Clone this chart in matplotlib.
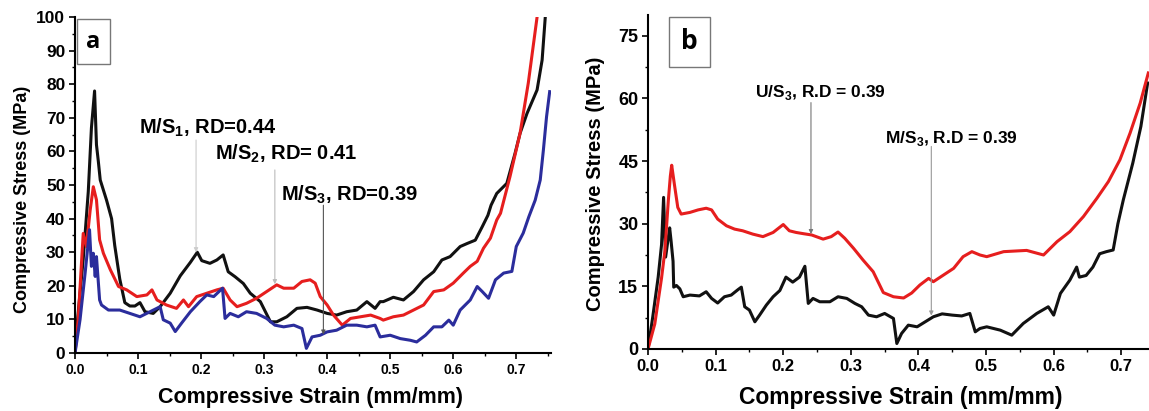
import numpy as np
import matplotlib
matplotlib.use('Agg')
import matplotlib.pyplot as plt
from matplotlib.patches import Rectangle
from matplotlib.ticker import MultipleLocator

plt.rcParams['font.family'] = 'Liberation Sans'
plt.rcParams['font.weight'] = 'bold'
plt.rcParams['mathtext.fontset'] = 'custom'
plt.rcParams['mathtext.rm'] = 'Liberation Sans:bold'
plt.rcParams['mathtext.bf'] = 'Liberation Sans:bold'

# ---- panel a data (strain, stress) ----
a_black_x = [0, 0.003, 0.013, 0.021, 0.026, 0.031, 0.034, 0.037, 0.040, 0.05, 0.058, 0.063, 0.071, 0.079,
             0.087, 0.095, 0.103, 0.111, 0.124, 0.135, 0.151, 0.167, 0.183, 0.194, 0.201, 0.214, 0.225,
             0.235, 0.243, 0.254, 0.267, 0.278, 0.294, 0.31, 0.32, 0.336, 0.352, 0.368, 0.384, 0.4, 0.415,
             0.431, 0.447, 0.463, 0.476, 0.484, 0.489, 0.505, 0.521, 0.537, 0.553, 0.569, 0.582, 0.595,
             0.611, 0.622, 0.635, 0.646, 0.655, 0.66, 0.669, 0.685, 0.698, 0.706, 0.717, 0.733, 0.741, 0.746]
a_black_y = [0, 8, 28, 48, 67, 78, 62, 57, 51.5, 45.5, 40, 32, 22, 15,
             14, 14, 15, 12.3, 11.8, 13.8, 17.8, 23, 27, 30, 27.5, 26.7, 27.7,
             29.2, 24.2, 22.7, 20.7, 17.8, 15.3, 9.3, 9.3, 10.8, 13.3, 13.6, 12.8, 11.8, 11.3,
             12.3, 12.8, 15.3, 13.3, 15.3, 15.3, 16.6, 15.8, 18.3, 21.8, 24.2, 27.7, 28.7,
             31.7, 32.6, 33.6, 37.6, 41, 44, 47.5, 50.5, 59.4, 65.4, 71.3, 78.3, 87.2, 100]

a_red_x = [0, 0.005, 0.013, 0.018, 0.024, 0.029, 0.034, 0.039, 0.045, 0.056, 0.069, 0.082, 0.098, 0.114,
           0.122, 0.13, 0.145, 0.161, 0.172, 0.18, 0.193, 0.209, 0.225, 0.235, 0.246, 0.257, 0.272,
           0.288, 0.304, 0.32, 0.331, 0.347, 0.36, 0.373, 0.381, 0.389, 0.4, 0.41, 0.424, 0.437, 0.453,
           0.469, 0.484, 0.489, 0.505, 0.521, 0.537, 0.553, 0.569, 0.585, 0.6, 0.616, 0.627, 0.638,
           0.648, 0.659, 0.669, 0.675, 0.69, 0.706, 0.719, 0.733]
a_red_y = [0, 10, 35.6, 31.7, 42.5, 49.5, 45.6, 33.7, 29.7, 24.8, 19.8, 18.8, 16.8, 17.3,
           18.8, 15.8, 14.3, 13.3, 15.8, 13.8, 16.8, 17.8, 18.8, 19.3, 15.8, 13.8, 14.8,
           16.3, 18.3, 20.3, 19.3, 19.3, 21.3, 21.8, 20.8, 16.8, 14.3, 11.3, 8.3, 10.3, 10.8,
           11.3, 10.3, 9.8, 10.8, 11.3, 12.8, 14.3, 18.3, 18.8, 20.8, 23.8, 25.8, 27.3,
           31.2, 34.2, 39.6, 41.6, 52.5, 65.4, 80.3, 100]

a_blue_x = [0, 0.008, 0.016, 0.023, 0.026, 0.029, 0.032, 0.034, 0.039, 0.042, 0.053, 0.071, 0.087, 0.103,
            0.119, 0.135, 0.14, 0.151, 0.159, 0.169, 0.183, 0.198, 0.209, 0.22, 0.234, 0.238, 0.246,
            0.259, 0.272, 0.288, 0.304, 0.317, 0.331, 0.347, 0.36, 0.367, 0.376, 0.389, 0.4, 0.415,
            0.431, 0.447, 0.463, 0.476, 0.484, 0.5, 0.516, 0.532, 0.542, 0.556, 0.569, 0.582, 0.593,
            0.6, 0.611, 0.627, 0.638, 0.646, 0.656, 0.667, 0.68, 0.693, 0.7, 0.711, 0.72, 0.73,
            0.738, 0.743, 0.748, 0.753]
a_blue_y = [0, 10, 23.8, 36.7, 25.8, 29.7, 22.8, 28.7, 15.8, 14.3, 12.8, 12.8, 11.8, 10.8,
            12.3, 13.8, 9.9, 8.9, 6.4, 8.9, 12.3, 15.3, 17.3, 16.8, 19.3, 10.3, 11.8,
            10.8, 12.3, 11.8, 10.3, 8.3, 7.8, 8.3, 7.3, 1.4, 4.8, 5.3, 6.3, 6.8,
            8.3, 8.3, 7.8, 8.3, 4.8, 5.3, 4.3, 3.8, 3.3, 5.3, 7.8, 7.8, 9.8,
            8.3, 12.8, 15.8, 19.8, 18.3, 16.3, 21.8, 23.8, 24.3, 31.7, 35.7, 40.6, 45.5,
            51.5, 60.4, 70.3, 77.8]

# ---- panel b data ----
b_red_x = [0, 0.01, 0.02, 0.025, 0.03, 0.033, 0.035, 0.039, 0.044, 0.049, 0.062, 0.074, 0.086, 0.094,
           0.103, 0.116, 0.128, 0.14, 0.155, 0.17, 0.185, 0.2, 0.209, 0.219, 0.23, 0.242, 0.259,
           0.271, 0.281, 0.291, 0.304, 0.318, 0.333, 0.348, 0.363, 0.378, 0.39, 0.402, 0.415, 0.422,
           0.437, 0.452, 0.466, 0.479, 0.491, 0.501, 0.526, 0.56, 0.585, 0.605, 0.624, 0.644, 0.664,
           0.681, 0.698, 0.713, 0.728, 0.74]
b_red_y = [0, 6, 17, 23.6, 35.5, 41.4, 44, 39.4, 33.9, 32.3, 32.7, 33.3, 33.7, 33.3,
           31.1, 29.5, 28.7, 28.3, 27.5, 26.9, 27.9, 29.8, 28.3, 27.9, 27.6, 27.3, 26.3,
           26.9, 28, 26.5, 24.1, 21.3, 18.5, 13.5, 12.5, 12.2, 13.4, 15.3, 16.9, 16.1,
           17.7, 19.3, 22.1, 23.3, 22.5, 22.1, 23.3, 23.6, 22.5, 25.7, 28.1, 31.7, 36.1,
           40.1, 45.3, 51.7, 58.9, 66.1]

b_black_x = [0, 0.007, 0.015, 0.02, 0.023, 0.026, 0.03, 0.032, 0.034, 0.037, 0.038, 0.042, 0.047, 0.052,
             0.062, 0.076, 0.086, 0.094, 0.103, 0.113, 0.123, 0.133, 0.138, 0.143, 0.15, 0.158, 0.165,
             0.175, 0.185, 0.195, 0.204, 0.214, 0.224, 0.232, 0.237, 0.244, 0.254, 0.269, 0.281, 0.294,
             0.306, 0.316, 0.326, 0.338, 0.35, 0.363, 0.368, 0.375, 0.385, 0.398, 0.41, 0.422, 0.435,
             0.45, 0.464, 0.476, 0.484, 0.491, 0.501, 0.521, 0.538, 0.555, 0.575, 0.592, 0.6, 0.61,
             0.624, 0.634, 0.638, 0.648, 0.658, 0.668, 0.678, 0.688, 0.695, 0.703, 0.717, 0.729, 0.739]
b_black_y = [0, 7.7, 17.2, 25, 36.3, 22, 26.7, 29, 26, 21, 14.8, 15.2, 14.4, 12.5,
             12.9, 12.7, 13.7, 12.1, 11, 12.5, 12.9, 14.2, 14.8, 10.1, 9.3, 6.5, 8.1,
             10.5, 12.5, 14, 17.2, 16, 17.2, 19.8, 10.9, 12.1, 11.3, 11.3, 12.5, 12.1,
             10.9, 10.1, 8.1, 7.7, 8.5, 7.3, 1.3, 3.7, 5.7, 5.3, 6.5, 7.7, 8.4,
             8.1, 7.9, 8.5, 4.1, 4.9, 5.3, 4.5, 3.3, 6.1, 8.5, 10.1, 8.1, 13.3,
             16.5, 19.6, 17.2, 17.6, 19.6, 22.8, 23.3, 23.7, 30, 35.7, 44.5, 53.3, 63.7]

black = '#111111'
red = '#e61e1e'
blue = '#2b2d9c'

fig = plt.figure(figsize=(11.49, 4.11), dpi=100)
axa = fig.add_axes([0.0653, 0.141, 0.4142, 0.8175])
axb = fig.add_axes([0.564, 0.151, 0.436, 0.8127])

axa.plot(a_black_x, a_black_y, color=black, lw=2.2)
axa.plot(a_red_x, a_red_y, color=red, lw=2.2)
axa.plot(a_blue_x, a_blue_y, color=blue, lw=2.2)
axa.set_xlim(0, 0.755)
axa.set_ylim(0, 100)
axa.xaxis.set_major_locator(MultipleLocator(0.1))
axa.xaxis.set_minor_locator(MultipleLocator(0.05))
axa.yaxis.set_major_locator(MultipleLocator(10))
axa.yaxis.set_minor_locator(MultipleLocator(5))
axa.tick_params(axis='x', labelsize=10)
axa.tick_params(axis='y', labelsize=12.5)

axb.plot(b_black_x, b_black_y, color=black, lw=2.2)
axb.plot(b_red_x, b_red_y, color=red, lw=2.2)
axb.set_xlim(0, 0.741)
axb.set_ylim(0, 80)
axb.xaxis.set_major_locator(MultipleLocator(0.1))
axb.xaxis.set_minor_locator(MultipleLocator(0.05))
axb.yaxis.set_major_locator(MultipleLocator(15))
axb.yaxis.set_minor_locator(MultipleLocator(7.5))
axb.tick_params(axis='x', labelsize=12)
axb.tick_params(axis='y', labelsize=13)

for ax in (axa, axb):
    ax.spines['top'].set_visible(False)
    ax.spines['right'].set_visible(False)
    ax.spines['left'].set_linewidth(1.5)
    ax.spines['bottom'].set_linewidth(1.5)
    ax.tick_params(which='major', direction='out', length=4, width=1.2, pad=3)
    ax.tick_params(which='minor', direction='out', length=2.5, width=1)
    ax.xaxis.set_major_formatter(matplotlib.ticker.FormatStrFormatter('%.1f'))

axa.set_xlabel('Compressive Strain (mm/mm)', fontsize=15.5, fontweight='bold', va='center')
axa.xaxis.set_label_coords(0.494, -0.131)
axa.set_ylabel('Compressive Stress (MPa)', fontsize=13, fontweight='bold', va='center')
axa.yaxis.set_label_coords(-0.111, 0.458)

axb.set_xlabel('Compressive Strain (mm/mm)', fontsize=16.5, fontweight='bold', va='center')
axb.xaxis.set_label_coords(0.504, -0.144)
axb.set_ylabel('Compressive Stress (MPa)', fontsize=14.5, fontweight='bold', va='center')
axb.yaxis.set_label_coords(-0.104, 0.494)

# annotations panel a
arrow = dict(arrowstyle='-|>', color='#777777', lw=0.8, mutation_scale=6, shrinkA=0, shrinkB=0)
axa.text(0.102, 67, r'M/S$_\mathbf{1}$, RD=0.44', fontsize=14.5, fontweight='bold', va='center')
axa.annotate('', xy=(0.192, 30), xytext=(0.192, 63.4), arrowprops=dict(arrow, color='#cccccc'))
axa.text(0.222, 59.2, r'M/S$_\mathbf{2}$, RD= 0.41', fontsize=14.5, fontweight='bold', va='center')
axa.annotate('', xy=(0.317, 20.5), xytext=(0.317, 54.5), arrowprops=dict(arrow, color='#bbbbbb'))
axa.text(0.327, 47, r'M/S$_\mathbf{3}$, RD=0.39', fontsize=14.5, fontweight='bold', va='center')
axa.annotate('', xy=(0.394, 5.5), xytext=(0.394, 44), arrowprops=dict(arrow, color='#555555'))

# annotations panel b
axb.text(0.158, 61.3, r'U/S$_\mathbf{3}$, R.D = 0.39', fontsize=12.5, fontweight='bold', va='center')
axb.annotate('', xy=(0.241, 27.5), xytext=(0.241, 59), arrowprops=dict(arrow, color='#777777'))
axb.text(0.350, 50.5, r'M/S$_\mathbf{3}$, R.D = 0.39', fontsize=12.5, fontweight='bold', va='center')
axb.annotate('', xy=(0.419, 8.0), xytext=(0.419, 48.5), arrowprops=dict(arrow, color='#999999'))

# panel letters
axa.add_patch(Rectangle((0.004, 0.860), 0.0695, 0.134, transform=axa.transAxes, fill=False,
                        edgecolor='#777777', lw=1, clip_on=False))
axa.text(0.0385, 0.927, 'a', transform=axa.transAxes, fontsize=17, fontweight='bold',
         family='Open Sans', ha='center', va='center')
axb.add_patch(Rectangle((0.042, 0.844), 0.082, 0.150, transform=axb.transAxes, fill=False,
                        edgecolor='#777777', lw=1, clip_on=False))
axb.text(0.083, 0.919, 'b', transform=axb.transAxes, fontsize=19, fontweight='bold',
         family='Open Sans', ha='center', va='center')

fig.savefig('out.png', dpi=100, facecolor='white')
